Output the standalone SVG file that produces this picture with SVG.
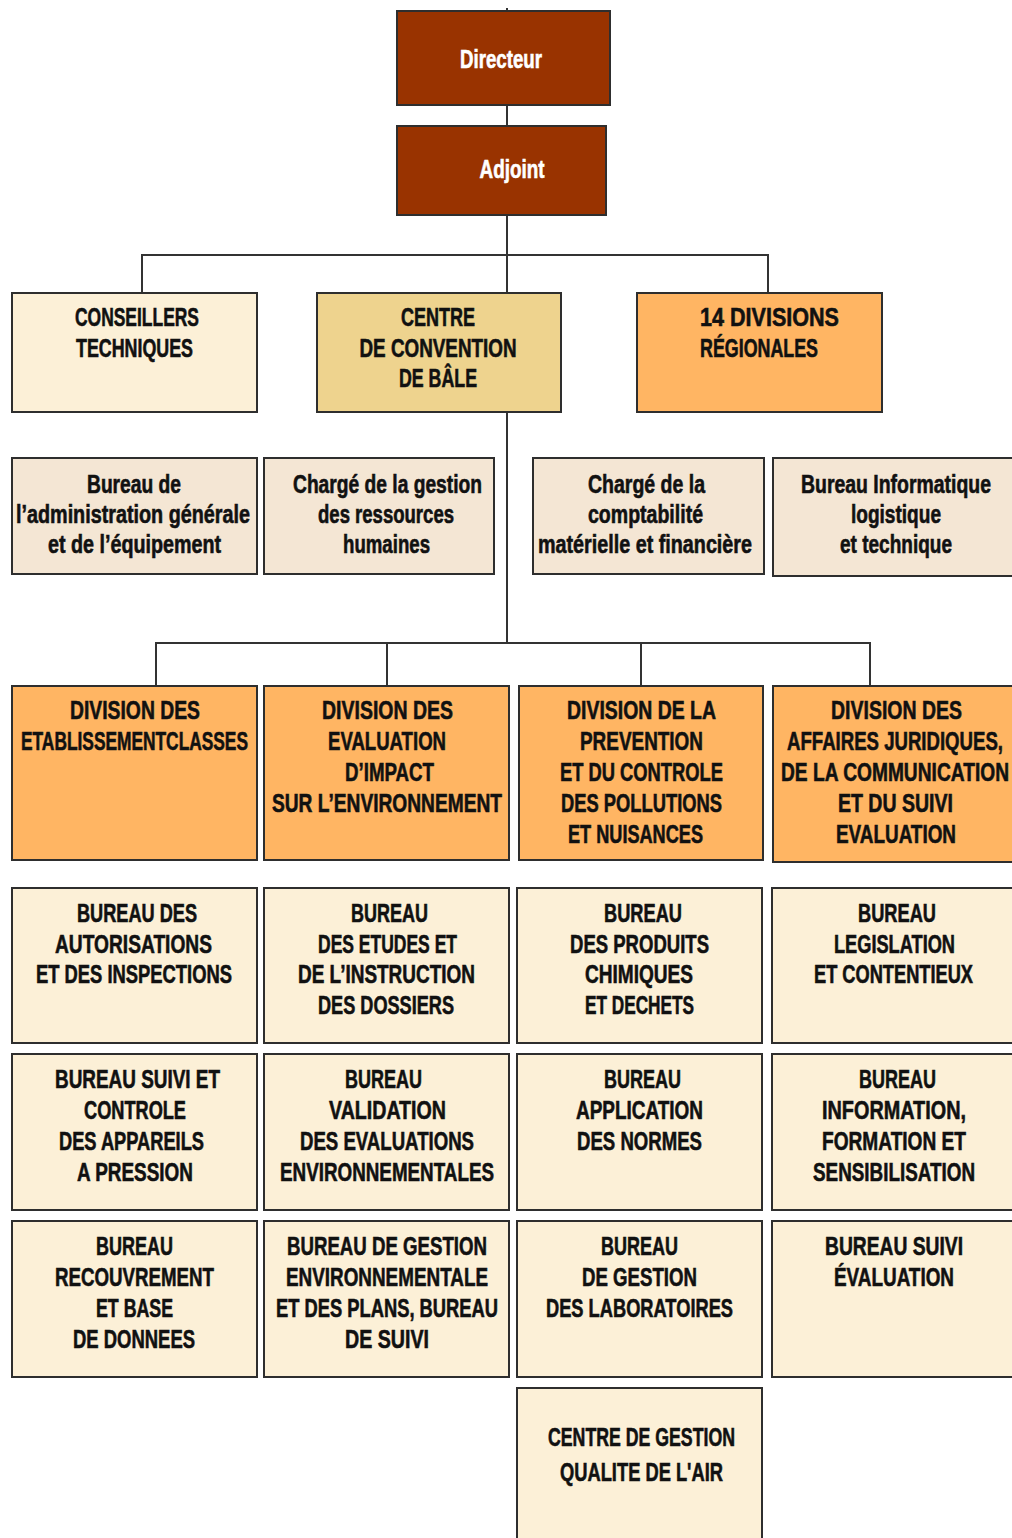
<svg xmlns="http://www.w3.org/2000/svg" width="1012" height="1538" viewBox="0 0 1012 1538">
<style>
rect{stroke:#2e2e2e;stroke-width:2}
.dir{fill:#993300}
.cr{fill:#FCF0D7}
.tan{fill:#EED38E}
.or{fill:#FFB563}
.bg{fill:#F4E6D4}
text{font-family:"Liberation Sans",Arial,sans-serif;font-weight:bold;font-size:26px;fill:#111;stroke:#111;stroke-width:0.6;text-anchor:middle}
.s{font-size:25px}
.w{fill:#fff;stroke:#fff;font-size:25px}
.l{text-anchor:start}
#connectors path{fill:none;stroke:#333;stroke-width:2}
</style>
<g id="connectors">
<path d="M507 8V126M507 215V412M507 412V643M142 293V255H768V293M507 255V293M156 686V643H870V686M387 643V686M641 643V686"/>
</g>
<g id="directeur"><rect class="dir" x="397" y="11" width="213" height="94"/><text class="w" x="501" y="68" textLength="82" lengthAdjust="spacingAndGlyphs">Directeur</text></g>
<g id="adjoint"><rect class="dir" x="397" y="126" width="209" height="89"/><text class="w" x="512" y="178" textLength="65" lengthAdjust="spacingAndGlyphs">Adjoint</text></g>
<g id="conseillers"><rect class="cr" x="12" y="293" width="245" height="119"/>
<text x="137" y="326" textLength="124" lengthAdjust="spacingAndGlyphs">CONSEILLERS</text>
<text x="134.5" y="356.5" textLength="117" lengthAdjust="spacingAndGlyphs">TECHNIQUES</text></g>
<g id="bale"><rect class="tan" x="317" y="293" width="244" height="119"/>
<text x="438" y="326" textLength="74" lengthAdjust="spacingAndGlyphs">CENTRE</text>
<text x="438" y="356.5" textLength="157" lengthAdjust="spacingAndGlyphs">DE CONVENTION</text>
<text x="438" y="387" textLength="78" lengthAdjust="spacingAndGlyphs">DE BÂLE</text></g>
<g id="regionales"><rect class="or" x="637" y="293" width="245" height="119"/>
<text class="l" x="700" y="326" textLength="139" lengthAdjust="spacingAndGlyphs">14  DIVISIONS</text>
<text class="l" x="700" y="356.5" textLength="118" lengthAdjust="spacingAndGlyphs">RÉGIONALES</text></g>
<g id="admin"><rect class="bg" x="12" y="458" width="245" height="116"/>
<text class="s" x="134" y="493" textLength="94" lengthAdjust="spacingAndGlyphs">Bureau de</text>
<text class="s" x="133" y="523" textLength="234" lengthAdjust="spacingAndGlyphs">l’administration générale</text>
<text class="s" x="134.5" y="553" textLength="173" lengthAdjust="spacingAndGlyphs">et de l’équipement</text></g>
<g id="rh"><rect class="bg" x="264" y="458" width="230" height="116"/>
<text class="s" x="387.5" y="493" textLength="189" lengthAdjust="spacingAndGlyphs">Chargé de la gestion</text>
<text class="s" x="386" y="523" textLength="136" lengthAdjust="spacingAndGlyphs">des ressources</text>
<text class="s" x="386.5" y="553" textLength="87" lengthAdjust="spacingAndGlyphs">humaines</text></g>
<g id="compta"><rect class="bg" x="533" y="458" width="231" height="116"/>
<text class="s" x="646.5" y="493" textLength="117" lengthAdjust="spacingAndGlyphs">Chargé de la</text>
<text class="s" x="645.5" y="523" textLength="115" lengthAdjust="spacingAndGlyphs">comptabilité</text>
<text class="s" x="645" y="553" textLength="214" lengthAdjust="spacingAndGlyphs">matérielle et financière</text></g>
<g id="info"><rect class="bg" x="773" y="458" width="242" height="118"/>
<text class="s" x="896" y="493" textLength="190" lengthAdjust="spacingAndGlyphs">Bureau Informatique</text>
<text class="s" x="896" y="523" textLength="90" lengthAdjust="spacingAndGlyphs">logistique</text>
<text class="s" x="896" y="553" textLength="112" lengthAdjust="spacingAndGlyphs">et technique</text></g>
<g id="div-etab"><rect class="or" x="12" y="686" width="245" height="174"/>
<text x="135" y="719" textLength="130" lengthAdjust="spacingAndGlyphs">DIVISION DES</text>
<text x="134.5" y="750" textLength="227" lengthAdjust="spacingAndGlyphs">ETABLISSEMENTCLASSES</text></g>
<g id="div-eval"><rect class="or" x="264" y="686" width="245" height="174"/>
<text x="387.5" y="719" textLength="131" lengthAdjust="spacingAndGlyphs">DIVISION DES</text>
<text x="387" y="750" textLength="118" lengthAdjust="spacingAndGlyphs">EVALUATION</text>
<text x="389.5" y="781" textLength="89" lengthAdjust="spacingAndGlyphs">D’IMPACT</text>
<text x="387" y="812" textLength="230" lengthAdjust="spacingAndGlyphs">SUR L’ENVIRONNEMENT</text></g>
<g id="div-prev"><rect class="or" x="519" y="686" width="244" height="174"/>
<text x="641.5" y="719" textLength="149" lengthAdjust="spacingAndGlyphs">DIVISION DE LA</text>
<text x="641.5" y="750" textLength="123" lengthAdjust="spacingAndGlyphs">PREVENTION</text>
<text x="641.5" y="781" textLength="163" lengthAdjust="spacingAndGlyphs">ET DU CONTROLE</text>
<text x="641.5" y="812" textLength="161" lengthAdjust="spacingAndGlyphs">DES POLLUTIONS</text>
<text x="635.5" y="843" textLength="135" lengthAdjust="spacingAndGlyphs">ET NUISANCES</text></g>
<g id="div-jur"><rect class="or" x="773" y="686" width="242" height="176"/>
<text x="896.5" y="719" textLength="131" lengthAdjust="spacingAndGlyphs">DIVISION DES</text>
<text x="895" y="750" textLength="216" lengthAdjust="spacingAndGlyphs">AFFAIRES JURIDIQUES,</text>
<text x="895" y="781" textLength="228" lengthAdjust="spacingAndGlyphs">DE LA COMMUNICATION</text>
<text x="895.5" y="812" textLength="115" lengthAdjust="spacingAndGlyphs">ET DU SUIVI</text>
<text x="896" y="843" textLength="120" lengthAdjust="spacingAndGlyphs">EVALUATION</text></g>
<g id="b-autor"><rect class="cr" x="12" y="888" width="245" height="155"/>
<text x="137" y="922" textLength="120" lengthAdjust="spacingAndGlyphs">BUREAU DES</text>
<text x="133.5" y="952.7" textLength="157" lengthAdjust="spacingAndGlyphs">AUTORISATIONS</text>
<text x="134" y="983.3" textLength="196" lengthAdjust="spacingAndGlyphs">ET DES INSPECTIONS</text></g>
<g id="b-etudes"><rect class="cr" x="264" y="888" width="245" height="155"/>
<text x="389.5" y="922" textLength="77" lengthAdjust="spacingAndGlyphs">BUREAU</text>
<text x="387.5" y="952.7" textLength="139" lengthAdjust="spacingAndGlyphs">DES ETUDES ET</text>
<text x="386.5" y="983.3" textLength="177" lengthAdjust="spacingAndGlyphs">DE L’INSTRUCTION</text>
<text x="386" y="1014" textLength="136" lengthAdjust="spacingAndGlyphs">DES DOSSIERS</text></g>
<g id="b-chim"><rect class="cr" x="517" y="888" width="245" height="155"/>
<text x="643" y="922" textLength="78" lengthAdjust="spacingAndGlyphs">BUREAU</text>
<text x="639.5" y="952.7" textLength="139" lengthAdjust="spacingAndGlyphs">DES PRODUITS</text>
<text x="639" y="983.3" textLength="108" lengthAdjust="spacingAndGlyphs">CHIMIQUES</text>
<text x="639.5" y="1014" textLength="109" lengthAdjust="spacingAndGlyphs">ET DECHETS</text></g>
<g id="b-legis"><rect class="cr" x="772" y="888" width="243" height="155"/>
<text x="897" y="922" textLength="78" lengthAdjust="spacingAndGlyphs">BUREAU</text>
<text x="894.5" y="952.7" textLength="121" lengthAdjust="spacingAndGlyphs">LEGISLATION</text>
<text x="893.5" y="983.3" textLength="159" lengthAdjust="spacingAndGlyphs">ET CONTENTIEUX</text></g>
<g id="b-press"><rect class="cr" x="12" y="1054" width="245" height="156"/>
<text x="137.5" y="1088" textLength="165" lengthAdjust="spacingAndGlyphs">BUREAU SUIVI ET</text>
<text x="135" y="1119" textLength="102" lengthAdjust="spacingAndGlyphs">CONTROLE</text>
<text x="131.5" y="1150" textLength="145" lengthAdjust="spacingAndGlyphs">DES APPAREILS</text>
<text x="135" y="1181" textLength="116" lengthAdjust="spacingAndGlyphs">A PRESSION</text></g>
<g id="b-valid"><rect class="cr" x="264" y="1054" width="245" height="156"/>
<text x="383.5" y="1088" textLength="77" lengthAdjust="spacingAndGlyphs">BUREAU</text>
<text x="387.5" y="1119" textLength="117" lengthAdjust="spacingAndGlyphs">VALIDATION</text>
<text x="387" y="1150" textLength="174" lengthAdjust="spacingAndGlyphs">DES EVALUATIONS</text>
<text x="387" y="1181" textLength="214" lengthAdjust="spacingAndGlyphs">ENVIRONNEMENTALES</text></g>
<g id="b-normes"><rect class="cr" x="517" y="1054" width="245" height="156"/>
<text x="642.5" y="1088" textLength="77" lengthAdjust="spacingAndGlyphs">BUREAU</text>
<text x="639.5" y="1119" textLength="127" lengthAdjust="spacingAndGlyphs">APPLICATION</text>
<text x="639.5" y="1150" textLength="125" lengthAdjust="spacingAndGlyphs">DES NORMES</text></g>
<g id="b-info"><rect class="cr" x="772" y="1054" width="243" height="156"/>
<text x="897.5" y="1088" textLength="77" lengthAdjust="spacingAndGlyphs">BUREAU</text>
<text x="894" y="1119" textLength="144" lengthAdjust="spacingAndGlyphs">INFORMATION,</text>
<text x="894" y="1150" textLength="144" lengthAdjust="spacingAndGlyphs">FORMATION ET</text>
<text x="894" y="1181" textLength="162" lengthAdjust="spacingAndGlyphs">SENSIBILISATION</text></g>
<g id="b-recouv"><rect class="cr" x="12" y="1221" width="245" height="156"/>
<text x="134.5" y="1255" textLength="77" lengthAdjust="spacingAndGlyphs">BUREAU</text>
<text x="134.5" y="1286" textLength="159" lengthAdjust="spacingAndGlyphs">RECOUVREMENT</text>
<text x="134.5" y="1317" textLength="77" lengthAdjust="spacingAndGlyphs">ET BASE</text>
<text x="134" y="1348" textLength="122" lengthAdjust="spacingAndGlyphs">DE DONNEES</text></g>
<g id="b-gestenv"><rect class="cr" x="264" y="1221" width="245" height="156"/>
<text x="387" y="1255" textLength="200" lengthAdjust="spacingAndGlyphs">BUREAU DE GESTION</text>
<text x="387" y="1286" textLength="202" lengthAdjust="spacingAndGlyphs">ENVIRONNEMENTALE</text>
<text x="387" y="1317" textLength="222" lengthAdjust="spacingAndGlyphs">ET DES PLANS, BUREAU</text>
<text x="387" y="1348" textLength="84" lengthAdjust="spacingAndGlyphs">DE SUIVI</text></g>
<g id="b-labo"><rect class="cr" x="517" y="1221" width="245" height="156"/>
<text x="639.5" y="1255" textLength="77" lengthAdjust="spacingAndGlyphs">BUREAU</text>
<text x="639.5" y="1286" textLength="115" lengthAdjust="spacingAndGlyphs">DE GESTION</text>
<text x="639.5" y="1317" textLength="187" lengthAdjust="spacingAndGlyphs">DES LABORATOIRES</text></g>
<g id="b-suivi"><rect class="cr" x="772" y="1221" width="243" height="156"/>
<text x="894" y="1255" textLength="138" lengthAdjust="spacingAndGlyphs">BUREAU SUIVI</text>
<text x="894" y="1286" textLength="120" lengthAdjust="spacingAndGlyphs">ÉVALUATION</text></g>
<g id="c-air"><rect class="cr" x="517" y="1388" width="245" height="160"/>
<text x="641.5" y="1446" textLength="187" lengthAdjust="spacingAndGlyphs">CENTRE DE GESTION</text>
<text x="641.5" y="1481" textLength="163" lengthAdjust="spacingAndGlyphs">QUALITE DE L'AIR</text></g>
</svg>
